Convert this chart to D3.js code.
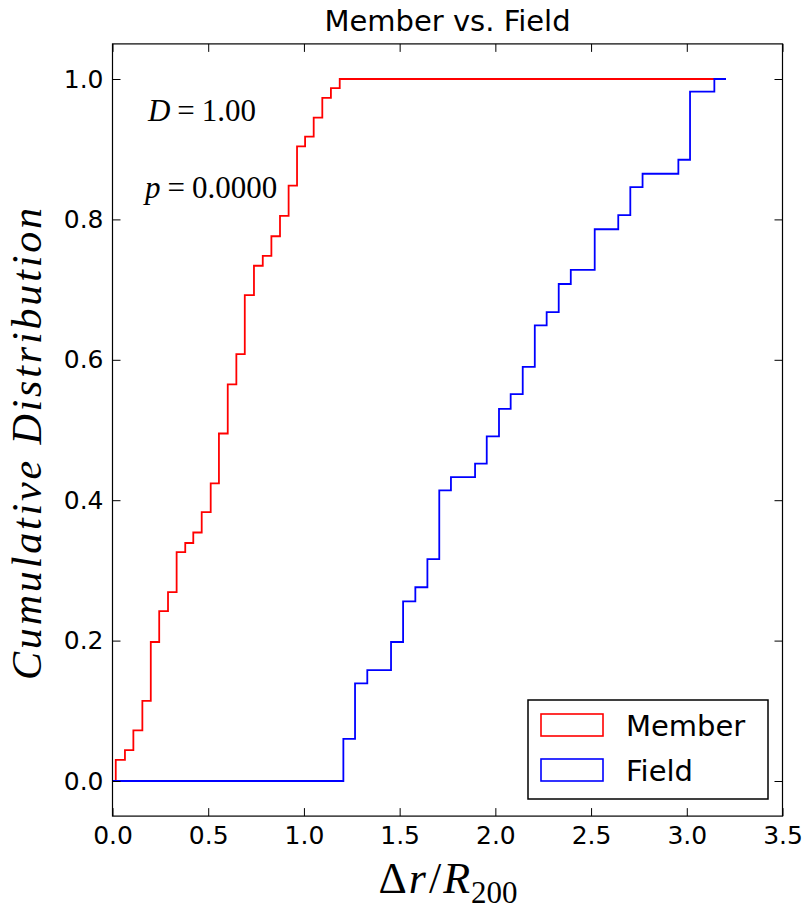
<!DOCTYPE html>
<html>
<head>
<meta charset="utf-8">
<script src="https://cdn.jsdelivr.net/npm/d3@7"></script>
<style>
  html, body { margin: 0; padding: 0; background: #fff; }
  svg { display: block; }
</style>
</head>
<body>
<svg id="chart" width="803" height="910"></svg>
<script>
// ---- data ----
const seriesNames = ["Member", "Field"];
const seriesColors = ["#ff0000", "#0000ff"];

// Member (red) cumulative steps: x where the step rises, value after rise
const memberX = [0.017, 0.065, 0.109, 0.156, 0.200, 0.244, 0.290, 0.335, 0.380, 0.422,
                 0.466, 0.513, 0.556, 0.602, 0.647, 0.691, 0.739, 0.785, 0.830, 0.875,
                 0.920, 0.964, 1.006, 1.051, 1.096, 1.141, 1.187];
const memberY = [0.030, 0.044, 0.072, 0.114, 0.198, 0.242, 0.269, 0.326, 0.339, 0.354,
                 0.383, 0.424, 0.495, 0.565, 0.608, 0.692, 0.734, 0.748, 0.776, 0.805,
                 0.848, 0.904, 0.918, 0.945, 0.973, 0.987, 1.000];
const memberStart = 0.0, memberEnd = 3.144;

// Field (blue) cumulative steps
const fieldX = [1.206, 1.267, 1.331, 1.455, 1.518, 1.582, 1.645, 1.707, 1.768, 1.894,
                1.955, 2.019, 2.080, 2.143, 2.206, 2.268, 2.331, 2.394, 2.519, 2.642,
                2.705, 2.769, 2.956, 3.017, 3.144];
const fieldY = [0.060, 0.139, 0.158, 0.198, 0.256, 0.276, 0.316, 0.414, 0.433, 0.452,
                0.491, 0.530, 0.551, 0.590, 0.649, 0.668, 0.708, 0.728, 0.786, 0.806,
                0.846, 0.865, 0.885, 0.982, 1.000];
const fieldStart = 0.0, fieldEnd = 3.205;

const xTicks = [0.0, 0.5, 1.0, 1.5, 2.0, 2.5, 3.0, 3.5];
const yTicks = [0.0, 0.2, 0.4, 0.6, 0.8, 1.0];
const xDomain = [0, 3.5];
const yDomain = [-0.05, 1.05];

const titleText = "Member vs. Field";
const statD = "1.00";
const statP = "0.0000";
const statPos = [[0.185, 0.940], [0.170, 0.830]];

// ---- layout ----
const svg = d3.select("#chart");
const L = 112.5, R = 782.5, T = 43.9, B = 816.1;
const x = d3.scaleLinear().domain(xDomain).range([L, R]);
const y = d3.scaleLinear().domain(yDomain).range([B, T]);

const tickFont = "'DejaVu Sans', sans-serif";
const mathFont = "'Liberation Serif', 'Times New Roman', serif";

// build step series
function buildSeries(xs, ys, x0, x1) {
  const pts = [[x0, 0]];
  xs.forEach((v, i) => pts.push([v, ys[i]]));
  pts.push([x1, ys[ys.length - 1]]);
  return pts;
}
const series = [
  buildSeries(memberX, memberY, memberStart, memberEnd),
  buildSeries(fieldX, fieldY, fieldStart, fieldEnd)
];

const line = d3.line().x(d => x(d[0])).y(d => y(d[1])).curve(d3.curveStepAfter);

const plot = svg.append("g");
plot.append("defs").append("clipPath").attr("id", "clip")
  .append("rect").attr("x", L).attr("y", T).attr("width", R - L).attr("height", B - T);

plot.append("g").attr("clip-path", "url(#clip)")
  .selectAll("path.series").data(series).join("path")
  .attr("class", "series")
  .attr("d", line)
  .attr("fill", "none")
  .attr("stroke", (d, i) => seriesColors[i])
  .attr("stroke-width", 1.8)
  .attr("stroke-linejoin", "miter");

// axes with inward ticks
function styleAxis(g) {
  g.select(".domain").remove();
  g.selectAll(".tick line").attr("stroke", "#000").attr("stroke-width", 1);
  g.selectAll(".tick text").attr("fill", "#000").attr("font-family", tickFont).attr("font-size", 25);
}
svg.append("g").attr("transform", `translate(0,${B})`)
  .call(d3.axisBottom(x).tickValues(xTicks).tickFormat(d3.format(".1f")).tickSize(-8).tickPadding(10))
  .call(styleAxis);
svg.append("g").attr("transform", `translate(0,${T})`)
  .call(d3.axisTop(x).tickValues(xTicks).tickFormat("").tickSize(-8))
  .call(styleAxis);
svg.append("g").attr("transform", `translate(${L},0)`)
  .call(d3.axisLeft(y).tickValues(yTicks).tickFormat(d3.format(".1f")).tickSize(-8).tickPadding(9))
  .call(styleAxis);
svg.append("g").attr("transform", `translate(${R},0)`)
  .call(d3.axisRight(y).tickValues(yTicks).tickFormat("").tickSize(-8))
  .call(styleAxis);

// frame
svg.append("rect").attr("x", L).attr("y", T).attr("width", R - L).attr("height", B - T)
  .attr("fill", "none").attr("stroke", "#000").attr("stroke-width", 1.2);

// title
svg.append("text").attr("x", (L + R) / 2).attr("y", 31)
  .attr("text-anchor", "middle").attr("font-family", tickFont).attr("font-size", 29)
  .attr("fill", "#000").text(titleText);

// statistics annotations
const tD = svg.append("text").attr("x", x(statPos[0][0])).attr("y", y(statPos[0][1]))
  .attr("font-family", mathFont).attr("font-size", 31).attr("fill", "#000");
tD.append("tspan").attr("font-style", "italic").text("D");
tD.append("tspan").attr("dx", 7).text("=");
tD.append("tspan").attr("dx", 7).text(statD);

const tP = svg.append("text").attr("x", x(statPos[1][0])).attr("y", y(statPos[1][1]))
  .attr("font-family", mathFont).attr("font-size", 31).attr("fill", "#000");
tP.append("tspan").attr("font-style", "italic").text("p");
tP.append("tspan").attr("dx", 7).text("=");
tP.append("tspan").attr("dx", 7).text(statP);

// y label
svg.append("text")
  .attr("transform", `translate(41,${(T + B) / 2 + 14}) rotate(-90)`)
  .attr("text-anchor", "middle")
  .attr("font-family", mathFont).attr("font-style", "italic").attr("font-size", 42)
  .attr("fill", "#000")
  .attr("textLength", 472).attr("lengthAdjust", "spacing")
  .text("Cumulative Distribution");

// x label: Δr/R_200
const xl = svg.append("text").attr("x", 448).attr("y", 893)
  .attr("text-anchor", "middle").attr("font-family", mathFont).attr("font-size", 44).attr("fill", "#000");
xl.append("tspan").text("Δ");
xl.append("tspan").attr("dx", 2).attr("font-style", "italic").text("r");
xl.append("tspan").attr("dx", 3).text("/");
xl.append("tspan").attr("dx", 2).attr("font-style", "italic").text("R");
xl.append("tspan").attr("font-size", 31).attr("dx", 1).attr("dy", 10).text("200");

// legend
const lg = svg.append("g");
lg.append("rect").attr("x", 528).attr("y", 700).attr("width", 240).attr("height", 99)
  .attr("fill", "#fff").attr("stroke", "#000").attr("stroke-width", 1.5);
const items = lg.selectAll("g.item").data(seriesNames).join("g").attr("class", "item")
  .attr("transform", (d, i) => `translate(0,${i * 45})`);
items.append("rect").attr("x", 541).attr("y", 714).attr("width", 62).attr("height", 22)
  .attr("fill", "none").attr("stroke", (d, i) => seriesColors[i]).attr("stroke-width", 1.6);
items.append("text").attr("x", 626).attr("y", 736)
  .attr("font-family", tickFont).attr("font-size", 29).attr("fill", "#000")
  .text(d => d);
</script>
</body>
</html>
